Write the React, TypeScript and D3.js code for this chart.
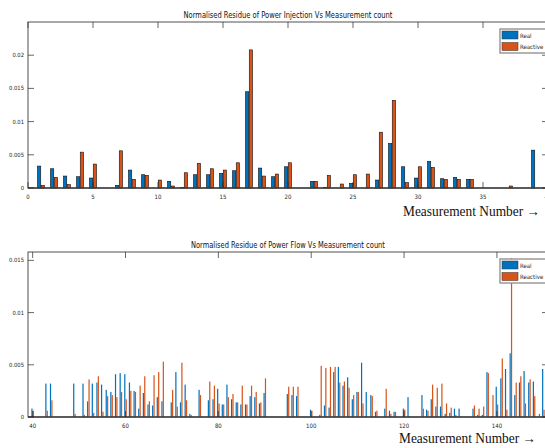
import React from 'react';
import * as d3 from 'd3';

// power injection residues, measurements 1..39
const injMeasurements = d3.range(1, 40);
const injReal = [
  0.0033, 0.0029, 0.0018, 0.0017, 0.0015, 0, 0.0004, 0.0027, 0.002, 0,
  0.001, 0.0001, 0.002, 0.002, 0.0022, 0.0026, 0.0145, 0.003, 0.0017, 0.0032,
  0, 0.001, 0.0001, 0, 0.0007, 0, 0.0012, 0.0067, 0.0032, 0.0015,
  0.004, 0.0014, 0.0016, 0.0013, 0, 0, 0, 0, 0.0057,
];
const injReactive = [
  0.0004, 0.0016, 0.0005, 0.0054, 0.0036, 0, 0.0056, 0.0013, 0.0019, 0.0012,
  0.0003, 0.0023, 0.0037, 0.0029, 0.0027, 0.0038, 0.0208, 0.0018, 0.0021, 0.0038,
  0, 0.001, 0.0019, 0.0006, 0.002, 0.0021, 0.0084, 0.0132, 0.0008, 0.0032,
  0.0031, 0.0013, 0.0013, 0.0013, 0, 0, 0.0003, 0, 0,
];

// power flow residues, measurements 40..150
const flowMeasurements = d3.range(40, 151);
const flowReal = [
  0.0008, 0, 0, 0.0032, 0.0032, 0, 0, 0, 0, 0.0032,
  0, 0.0032, 0.0015, 0.0032, 0.0033, 0.0031, 0.0026, 0.0024, 0.0041, 0.0042,
  0.0041, 0.0033, 0.0025, 0.0008, 0.0023, 0.0012, 0.0011, 0.0019, 0.0015, 0,
  0.0014, 0.0043, 0.0014, 0.0031, 0.0003, 0, 0.0026, 0, 0.0016, 0.0017,
  0.0027, 0.0012, 0.0031, 0.0017, 0.0014, 0.0012, 0.0012, 0.002, 0.0019, 0.0013,
  0.0023, 0, 0, 0, 0, 0.0022, 0.0021, 0.002, 0, 0,
  0.0007, 0, 0.0002, 0.0011, 0.0009, 0.0043, 0.0048, 0.003, 0.0038, 0.0017,
  0.0024, 0.0052, 0.0024, 0.0021, 0.0005, 0, 0.0008, 0.0006, 0.0005, 0,
  0.0008, 0.0019, 0, 0, 0.0021, 0.0007, 0.0017, 0.001, 0.001, 0.0003,
  0.0004, 0.0008, 0.0008, 0, 0, 0.0008, 0.0002, 0.0002, 0.0043, 0.0001,
  0.0029, 0.0037, 0.0046, 0.0061, 0.0021, 0.0033, 0.0044, 0.0033, 0.0034, 0, 0.0046,
];
const flowReactive = [
  0.0006, 0, 0, 0.0006, 0.0016, 0, 0, 0, 0, 0.0003,
  0, 0.0002, 0.0036, 0.0004, 0.0039, 0.0005, 0.002, 0.0021, 0.0019, 0.0024,
  0.0017, 0.0025, 0.0024, 0.003, 0.0039, 0.0015, 0.004, 0.0043, 0.0053, 0,
  0.0026, 0.001, 0.0052, 0.0016, 0.0002, 0, 0.0021, 0, 0.0034, 0.003,
  0.0013, 0.0012, 0.0019, 0.0022, 0.0014, 0.003, 0.0012, 0.003, 0.0024, 0.0014,
  0.0037, 0, 0, 0, 0, 0.0029, 0.0029, 0.0029, 0, 0,
  0.0006, 0, 0.0049, 0.0047, 0.0048, 0.0048, 0.0033, 0.0034, 0.0028, 0.0021,
  0.0024, 0.0013, 0, 0.002, 0.0006, 0, 0.0027, 0.0003, 0.0005, 0,
  0.0007, 0.0001, 0, 0, 0.0008, 0.0006, 0.0031, 0.0028, 0.0032, 0.0013,
  0.0009, 0.0002, 0, 0, 0, 0.0011, 0.0008, 0.001, 0.0042, 0.0021,
  0.0012, 0.0056, 0.0007, 0.0152, 0.0033, 0.0039, 0.0013, 0.0036, 0.002, 0.0003, 0.0007,
];

const injXTicks = [0, 5, 10, 15, 20, 25, 30, 35, 40];
const injYTicks = [0, 0.005, 0.01, 0.015, 0.02];
const flowXTicks = [40, 60, 80, 100, 120, 140];
const flowYTicks = [0, 0.005, 0.01, 0.015];

const BLUE = '#0072BD';
const ORANGE = '#D95319';
const AXIS = '#262626';
const NARROW = '"Liberation Sans Narrow", "DejaVu Sans Condensed", "Liberation Sans", sans-serif';

const LEFT = 28;
const RIGHT = 548;
const TICK = 6;

function Panel({top, bottom, xDomain, yDomain, xTicks, yTicks, cats, real, reactive,
  barW, off, edge, title, titleLen, labelX, labelY}) {
  const x = d3.scaleLinear().domain(xDomain).range([LEFT, RIGHT]);
  const y = d3.scaleLinear().domain(yDomain).range([bottom, top]);
  const bw = x(xDomain[0] + barW) - x(xDomain[0]);

  const bars = (vals, color, shift) =>
    cats.map((m, i) => {
      const h = y(0) - y(vals[i]);
      return (
        <rect key={`${color}-${m}`} x={x(m + shift) - bw / 2} y={y(vals[i])}
          width={bw} height={Math.max(h, 0)} fill={color}
          stroke={edge ? '#111' : 'none'} strokeWidth={edge ? 0.6 : 0} />
      );
    });

  return (
    <g>
      <text x={(LEFT + RIGHT) / 2} y={top - 4} textAnchor="middle" fontFamily={NARROW}
        fontSize={8.5} fill="#111" textLength={titleLen} lengthAdjust="spacingAndGlyphs">
        {title}
      </text>
      {bars(real, BLUE, -off)}
      {bars(reactive, ORANGE, off)}
      <line x1={LEFT} x2={RIGHT} y1={y(0)} y2={y(0)} stroke="#555" strokeWidth={1.6} />
      <rect x={LEFT} y={top} width={RIGHT - LEFT} height={bottom - top} fill="none"
        stroke={AXIS} strokeWidth={0.8} />
      {xTicks.map(t => (
        <g key={`xt${t}`}>
          <line x1={x(t)} x2={x(t)} y1={bottom} y2={bottom - TICK} stroke={AXIS} strokeWidth={0.7} />
          <line x1={x(t)} x2={x(t)} y1={top} y2={top + TICK} stroke={AXIS} strokeWidth={0.7} />
          <text x={x(t)} y={bottom + 11} textAnchor="middle" fontFamily={NARROW}
            fontSize={6} fill={AXIS}>{t}</text>
        </g>
      ))}
      {yTicks.map(t => (
        <g key={`yt${t}`}>
          <line x1={LEFT} x2={LEFT + TICK} y1={y(t)} y2={y(t)} stroke={AXIS} strokeWidth={0.7} />
          <line x1={RIGHT} x2={RIGHT - TICK} y1={y(t)} y2={y(t)} stroke={AXIS} strokeWidth={0.7} />
          <text x={LEFT - 4} y={y(t) + 2} textAnchor="end" fontFamily={NARROW}
            fontSize={5.8} fill={AXIS}>{String(t)}</text>
        </g>
      ))}
      {/* legend */}
      <g transform={`translate(500,${top + 7})`}>
        <rect x={0} y={0} width={48} height={24} fill="#fff" stroke="#8a8a8a" strokeWidth={1.3} />
        <rect x={2} y={2} width={16} height={8} fill={BLUE} stroke="#333" strokeWidth={0.5} />
        <rect x={2} y={13.5} width={16} height={8} fill={ORANGE} stroke="#333" strokeWidth={0.5} />
        <text x={20} y={8.5} fontFamily={NARROW} fontSize={6} fill="#222">Real</text>
        <text x={20} y={20} fontFamily={NARROW} fontSize={6} fill="#222">Reactive</text>
      </g>
      <text x={labelX} y={labelY} fontFamily='"Liberation Serif", "DejaVu Serif", serif'
        fontSize={14} fill="#111" textLength={137} lengthAdjust="spacingAndGlyphs">
        Measurement Number →
      </text>
    </g>
  );
}

export default function App() {
  return (
    <svg width={545} height={448} style={{position: 'absolute', left: 0, top: 0, background: '#fff'}}>
      <Panel top={22} bottom={188} xDomain={[0, 40]} yDomain={[0, 0.025]}
        xTicks={injXTicks} yTicks={injYTicks} cats={injMeasurements}
        real={injReal} reactive={injReactive} barW={0.25} off={0.145} edge={true}
        title="Normalised Residue of Power Injection Vs Measurement count" titleLen={209}
        labelX={403} labelY={216} />
      <Panel top={252} bottom={417} xDomain={[39, 151]} yDomain={[0, 0.0158]}
        xTicks={flowXTicks} yTicks={flowYTicks} cats={flowMeasurements}
        real={flowReal} reactive={flowReactive} barW={0.26} off={0.15} edge={false}
        title="Normalised Residue of Power Flow Vs Measurement count" titleLen={194}
        labelX={399} labelY={443} />
    </svg>
  );
}
